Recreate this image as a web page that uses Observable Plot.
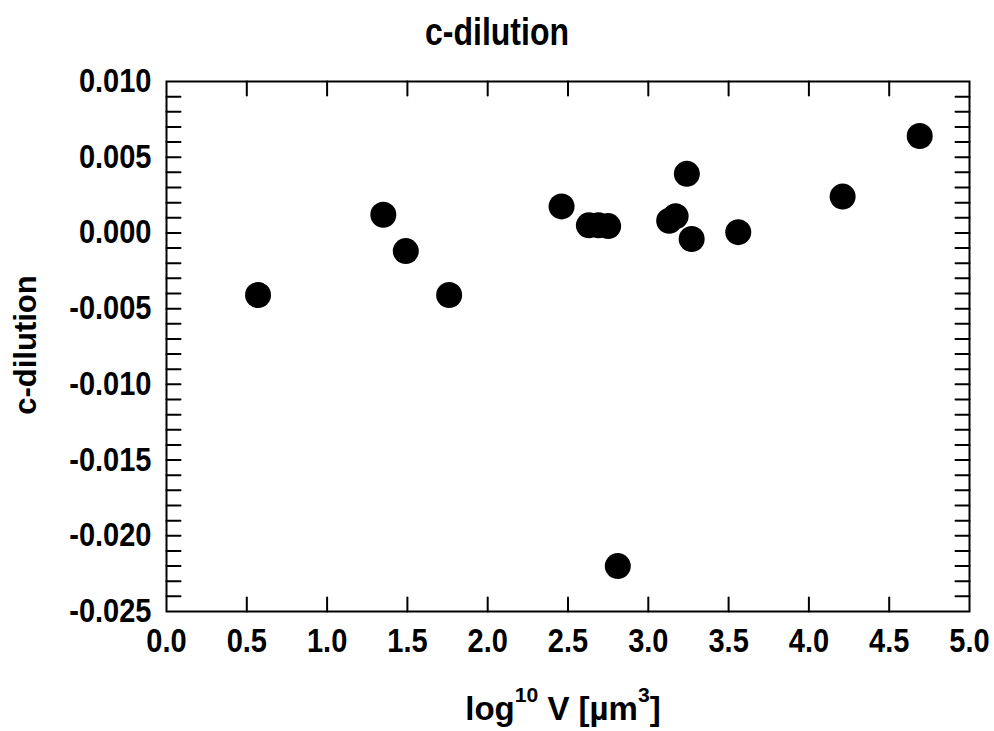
<!DOCTYPE html>
<html>
<head>
<meta charset="utf-8">
<script src="https://cdn.jsdelivr.net/npm/d3@7"></script>
<script src="https://cdn.jsdelivr.net/npm/@observablehq/plot@0.6"></script>
<style>
  html, body { margin: 0; padding: 0; background: #fff; }
  #wrap { position: relative; width: 994px; height: 731px; font-family: "Liberation Sans", Arial, sans-serif; font-weight: bold; color: #000; }
  #title { position: absolute; left: 0; width: 994px; top: 14px; text-align: center; font-size: 32px; line-height: 36px; transform: scaleY(1.2); transform-origin: center; }
  #xlabel { position: absolute; left: 166px; width: 794px; top: 690px; text-align: center; font-size: 33px; line-height: 38px; }
  #xlabel sup { font-size: 0.64em; vertical-align: 0; position: relative; top: -0.85em; }
  #ylabel { position: absolute; left: 30px; top: 345px; width: 0; height: 0; }
  #ylabel span { position: absolute; white-space: nowrap; transform: translate(-50%, -50%) rotate(-90deg); font-size: 31px; line-height: 34px; left: -4px; top: 0; }
  #chart { position: absolute; left: 0; top: 0; }
</style>
</head>
<body>
<div id="wrap">
  <div id="chart"></div>
  <div id="title">c-dilution</div>
  <div id="ylabel"><span>c-dilution</span></div>
  <div id="xlabel">log<sup>10</sup> V [µm<sup>3</sup>]</div>
</div>
<script>
// Data
const logV = [0.57, 1.35, 1.49, 1.76, 2.46, 2.63, 2.69, 2.75, 3.13, 3.17, 3.24, 3.27, 3.56, 4.21, 4.69, 2.81];
const cDilution = [-0.0041, 0.0012, -0.0012, -0.0041, 0.00175, 0.0005, 0.0005, 0.00045, 0.0008, 0.0011, 0.0039, -0.0004, 0.00005, 0.0024, 0.0064, -0.0220];

const xTickValues = [0.0, 0.5, 1.0, 1.5, 2.0, 2.5, 3.0, 3.5, 4.0, 4.5, 5.0];
const yTickValues = [0.010, 0.005, 0.000, -0.005, -0.010, -0.015, -0.020, -0.025];
const yMinorTicks = d3.range(-24, 10).map(i => i / 1000);
const xInnerTicks = [0.5, 1.0, 1.5, 2.0, 2.5, 3.0, 3.5, 4.0, 4.5];

const points = logV.map((x, i) => ({x, y: cDilution[i]}));

const tickShape = { draw(ctx, l) { ctx.moveTo(0, 0); ctx.lineTo(0, -l); } };
const fmtY = d => d.toFixed(3);
const fmtX = d => d.toFixed(1);

const plot = Plot.plot({
  width: 994,
  height: 731,
  marginLeft: 166,
  marginRight: 25,
  marginTop: 81,
  marginBottom: 120,
  style: { fontFamily: '"Liberation Sans", Arial, sans-serif', background: "white", color: "black" },
  x: { domain: [0, 5], axis: null },
  y: { domain: [-0.025, 0.010], axis: null },
  marks: [
    Plot.vector(yMinorTicks, { y: d => d, frameAnchor: "left", rotate: 90, length: 14, anchor: "start", shape: tickShape, stroke: "black", strokeWidth: 2 }),
    Plot.vector(yMinorTicks, { y: d => d, frameAnchor: "right", rotate: -90, length: 14, anchor: "start", shape: tickShape, stroke: "black", strokeWidth: 2 }),
    Plot.vector(xInnerTicks, { x: d => d, frameAnchor: "bottom", rotate: 0, length: 14, anchor: "start", shape: tickShape, stroke: "black", strokeWidth: 2 }),
    Plot.vector(xInnerTicks, { x: d => d, frameAnchor: "top", rotate: 180, length: 14, anchor: "start", shape: tickShape, stroke: "black", strokeWidth: 2 }),
    Plot.frame({ stroke: "black", strokeWidth: 2 }),
    Plot.axisY({ ticks: yTickValues, tickSize: 0, tickPadding: 15, tickFormat: fmtY, fontSize: 29, fontWeight: "bold", label: null }),
    Plot.axisX({ ticks: xTickValues, tickSize: 0, tickPadding: 17, tickFormat: fmtX, fontSize: 29, fontWeight: "bold", label: null }),
    Plot.dot(points, { x: "x", y: "y", r: 13, fill: "black" })
  ]
});
// stretch tick-label glyphs vertically to match the reference's tall bold digits
plot.querySelectorAll("g[aria-label$='axis tick label'] text").forEach(t => {
  const tr = t.getAttribute("transform");
  if (tr) {
    t.setAttribute("transform", tr + " scale(1,1.13)");
  } else {
    const x = t.getAttribute("x") || 0, y = t.getAttribute("y") || 0;
    t.removeAttribute("x"); t.removeAttribute("y");
    t.setAttribute("transform", `translate(${x},${y}) scale(1,1.13)`);
  }
});
document.getElementById("chart").appendChild(plot);
</script>
</body>
</html>
